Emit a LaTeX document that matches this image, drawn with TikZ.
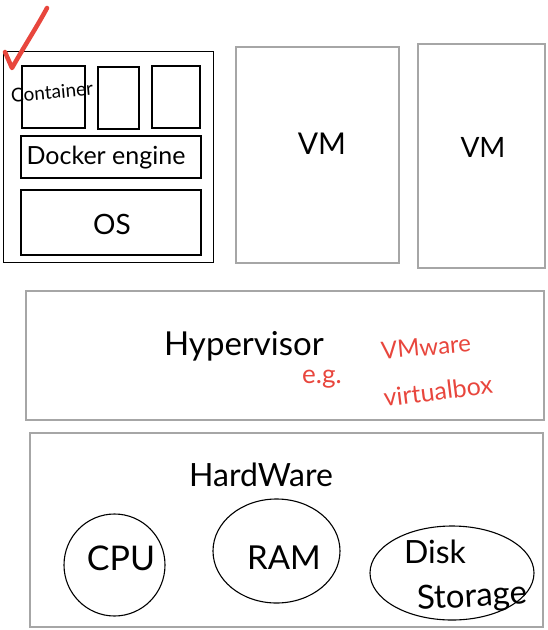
\documentclass[tikz,border=0pt]{standalone}
\usepackage{fontspec}
\setmainfont{Lato}
\usetikzlibrary{shapes.geometric}
\definecolor{pen}{HTML}{E8463D}
\definecolor{frame}{HTML}{A6A6A6}
\begin{document}
\begin{tikzpicture}[x=1pt,y=-1pt,
  graybox/.style={draw=frame, line width=1.3pt, inner sep=0pt, outer sep=0pt},
  blackbox/.style={draw=black, line width=1.7pt, inner sep=0pt, outer sep=0pt},
  thinbox/.style={draw=black, line width=0.8pt, inner sep=0pt, outer sep=0pt},
  oval/.style={ellipse, draw=black, line width=1.1pt, inner sep=0pt},
  hand/.style={font=\fontsize{#1}{#1}\selectfont, inner sep=0pt},
  redhand/.style={hand=#1, text=pen}]
\useasboundingbox (0,0) rectangle (547,630);

% Docker host
\node[thinbox, minimum width=210pt, minimum height=211pt] (host) at (108,156.5) {};
\node[blackbox, minimum width=63pt, minimum height=62pt] (c1) at (53.5,97) {};
\node[blackbox, minimum width=41pt, minimum height=62pt] (c2) at (118.5,98) {};
\node[blackbox, minimum width=48pt, minimum height=62pt] (c3) at (176,97) {};
\node[blackbox, minimum width=180pt, minimum height=42pt] (engine) at (111,157) {};
\node[blackbox, minimum width=180pt, minimum height=65pt] (os) at (111,222.5) {};
\node[hand=19, rotate=5] (ctext) at (52,92) {Container};
\node[hand=25] (etext) at (106,158) {Docker engine};
\node[hand=28] (ostext) at (112,224) {OS};

% VMs
\node[graybox, minimum width=163pt, minimum height=216pt] (vm1) at (317.5,155) {};
\node[graybox, minimum width=127pt, minimum height=224pt] (vm2) at (481.5,156) {};
\node[hand=30] (vm1text) at (322,144) {VM};
\node[hand=28] (vm2text) at (483,147) {VM};

% Hypervisor
\node[graybox, minimum width=518pt, minimum height=129pt] (hyper) at (285,355.5) {};
\node[hand=33] (htext) at (244,346) {Hypervisor};
\node[redhand=26] (eg) at (322,379) {e.g.};
\node[redhand=24, rotate=5] (vmware) at (426,347) {VMware};
\node[redhand=25, rotate=7] (vbox) at (438,391) {virtualbox};

% Hardware
\node[graybox, minimum width=513pt, minimum height=194pt] (hw) at (286.5,530) {};
\node[hand=32] (hwtext) at (261,475) {HardWare};
\node[oval, minimum width=101pt, minimum height=102pt] (cpu) at (114.5,565) {};
\node[oval, minimum width=127pt, minimum height=104pt] (ram) at (276.5,551) {};
\node[oval, minimum width=164pt, minimum height=94pt] (disk) at (452,573) {};
\node[hand=34] (cputext) at (121,558) {CPU};
\node[hand=33] (ramtext) at (284,558) {RAM};
\node[hand=32] (disktext) at (435,552) {Disk};
\node[hand=33, rotate=3] (stortext) at (472,598) {Storage};

% red check mark
\draw[pen, line width=4.5pt, line cap=round, line join=round]
  (5,52) .. controls (8,60) .. (12,68) .. controls (25,45) and (38,25) .. (47,8);
\end{tikzpicture}
\end{document}
